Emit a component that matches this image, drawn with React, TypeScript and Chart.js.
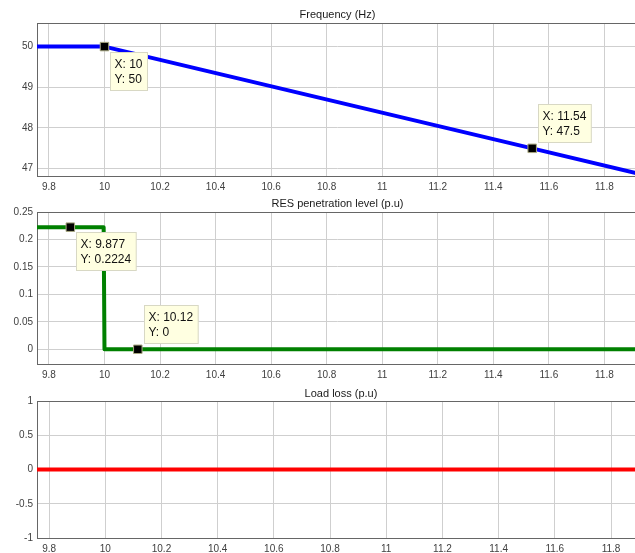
import React, { useEffect, useRef } from "react";
import { Chart, registerables } from "chart.js";

Chart.register(...registerables);

// ---------- data ----------
const xTicks = [9.8, 10, 10.2, 10.4, 10.6, 10.8, 11, 11.2, 11.4, 11.6, 11.8];
const xMin = 9.757;
const xMax = 11.921;

const freqTime = [9.757, 10, 11.54, 11.921];
const freqValue = [50, 50, 47.5, 46.88];
const freqTicks = [47, 48, 49, 50];
const freqTipX = [10, 11.54];
const freqTipY = [50, 47.5];
const freqTipLabelX = ["10", "11.54"];
const freqTipLabelY = ["50", "47.5"];

const resTime = [9.757, 9.997, 10.0, 11.921];
const resValue = [0.2224, 0.2224, 0, 0];
const resTicks = [0, 0.05, 0.1, 0.15, 0.2, 0.25];
const resTipX = [9.877, 10.12];
const resTipY = [0.2224, 0];
const resTipLabelX = ["9.877", "10.12"];
const resTipLabelY = ["0.2224", "0"];

const lossTime = [9.757, 11.921];
const lossValue = [0, 0];
const lossTicks = [-1, -0.5, 0, 0.5, 1];

// ---------- styling / layout ----------
const FONT = '"Liberation Sans", Arial, Helvetica, sans-serif';
const CANVAS_W = 645;

type Tip = { x: number; y: number; lx: string; ly: string; above: boolean };

type Panel = {
  top: number;
  height: number;
  chartTop: number;
  chartBottom: number;
  titleY: number;
  title: string;
  yMin: number;
  yMax: number;
  yTicks: number[];
  times: number[];
  values: number[];
  color: string;
  tips: Tip[];
};

const mkTips = (xs: number[], ys: number[], lx: string[], ly: string[], above: boolean[]): Tip[] =>
  xs.map((x, i) => ({ x, y: ys[i], lx: lx[i], ly: ly[i], above: above[i] }));

const panels: Panel[] = [
  {
    top: 0,
    height: 192,
    chartTop: 23,
    chartBottom: 176,
    titleY: 15,
    title: "Frequency (Hz)",
    yMin: 46.82,
    yMax: 50.58,
    yTicks: freqTicks,
    times: freqTime,
    values: freqValue,
    color: "#0000ff",
    tips: mkTips(freqTipX, freqTipY, freqTipLabelX, freqTipLabelY, [false, true]),
  },
  {
    top: 190,
    height: 192,
    chartTop: 22,
    chartBottom: 174,
    titleY: 14,
    title: "RES penetration level (p.u)",
    yMin: -0.0268,
    yMax: 0.25,
    yTicks: resTicks,
    times: resTime,
    values: resValue,
    color: "#008000",
    tips: mkTips(resTipX, resTipY, resTipLabelX, resTipLabelY, [false, true]),
  },
  {
    top: 380,
    height: 173,
    chartTop: 21,
    chartBottom: 158,
    titleY: 14,
    title: "Load loss (p.u)",
    yMin: -1,
    yMax: 1,
    yTicks: lossTicks,
    times: lossTime,
    values: lossValue,
    color: "#ff0000",
    tips: [],
  },
];

const fmt = (v: number) => String(Number(v.toFixed(4)));

function makePlugins(p: Panel) {
  const frame = {
    id: "frame",
    beforeDatasetsDraw(chart: any) {
      const { ctx, chartArea } = chart;
      ctx.save();
      ctx.strokeStyle = "#666666";
      ctx.lineWidth = 1;
      ctx.strokeRect(
        Math.round(chartArea.left) + 0.5,
        Math.round(chartArea.top) + 0.5,
        chartArea.right - chartArea.left,
        chartArea.bottom - chartArea.top
      );
      ctx.restore();
    },
  };
  const title = {
    id: "ptitle",
    afterDraw(chart: any) {
      const { ctx, chartArea } = chart;
      ctx.save();
      ctx.font = `11px ${FONT}`;
      ctx.fillStyle = "#1a1a1a";
      ctx.textAlign = "center";
      ctx.textBaseline = "middle";
      ctx.fillText(p.title, (chartArea.left + chartArea.right) / 2, p.titleY);
      ctx.restore();
    },
  };
  const tips = {
    id: "tips",
    afterDatasetsDraw(chart: any) {
      const { ctx } = chart;
      const xs = chart.scales.x;
      const ys = chart.scales.y;
      ctx.save();
      ctx.font = `12px ${FONT}`;
      p.tips.forEach((t) => {
        const px = xs.getPixelForValue(t.x);
        const py = ys.getPixelForValue(t.y);
        const lines = ["X: " + t.lx, "Y: " + t.ly];
        const w = Math.max(...lines.map((l) => ctx.measureText(l).width)) + 9;
        const h = 38;
        const bx = Math.round(px + 6) + 0.5;
        const by = Math.round(t.above ? py - 6 - h : py + 5) + 0.5;
        ctx.fillStyle = "#ffffe1";
        ctx.fillRect(bx, by, w, h);
        ctx.strokeStyle = "#d8d8c4";
        ctx.lineWidth = 1;
        ctx.strokeRect(bx, by, w, h);
        ctx.fillStyle = "#111";
        ctx.textAlign = "left";
        ctx.textBaseline = "middle";
        ctx.fillText(lines[0], bx + 4, by + 12.5);
        ctx.fillText(lines[1], bx + 4, by + 27);
      });
      ctx.restore();
    },
  };
  return [frame, tips, title];
}

function PanelChart({ p }: { p: Panel }) {
  const ref = useRef<HTMLCanvasElement | null>(null);
  useEffect(() => {
    if (!ref.current) return;
    const xH = p.height - p.chartBottom;
    const chart = new Chart(ref.current, {
      type: "line",
      data: {
        datasets: [
          {
            data: p.tips.map((t) => ({ x: t.x, y: t.y })),
            showLine: false,
            pointStyle: "rect",
            pointRadius: 6,
            pointBackgroundColor: "#000",
            pointBorderColor: "#a8a880",
            pointBorderWidth: 1,
            clip: false as any,
            order: 0,
          } as any,
          {
            data: p.times.map((t, i) => ({ x: t, y: p.values[i] })),
            borderColor: p.color,
            borderWidth: 4,
            pointRadius: 0,
            tension: 0,
            fill: false,
            borderJoinStyle: "round",
            clip: 0 as any,
            order: 1,
          } as any,
        ],
      },
      options: {
        animation: false,
        responsive: false,
        devicePixelRatio: 1,
        events: [],
        layout: { padding: { top: p.chartTop, left: 0, right: 0, bottom: 0 } },
        plugins: {
          legend: { display: false },
          title: { display: false },
          tooltip: { enabled: false },
        },
        scales: {
          x: {
            type: "linear",
            min: xMin,
            max: xMax,
            border: { display: false },
            grid: { color: "#cfcfcf", lineWidth: 1, drawTicks: false },
            afterBuildTicks: (s: any) => {
              s.ticks = xTicks.map((v) => ({ value: v }));
            },
            afterFit: (s: any) => {
              s.height = xH;
            },
            ticks: {
              padding: 5,
              maxRotation: 0,
              autoSkip: false,
              color: "#404040",
              font: { family: FONT, size: 10 },
              callback: (v: any) => fmt(Number(v)),
            },
          },
          y: {
            type: "linear",
            min: p.yMin,
            max: p.yMax,
            border: { display: false },
            grid: { color: "#cfcfcf", lineWidth: 1, drawTicks: false },
            afterBuildTicks: (s: any) => {
              s.ticks = p.yTicks.map((v) => ({ value: v }));
            },
            afterFit: (s: any) => {
              s.width = 37;
            },
            ticks: {
              padding: 4,
              autoSkip: false,
              color: "#404040",
              font: { family: FONT, size: 10 },
              callback: (v: any) => fmt(Number(v)),
            },
          },
        },
      } as any,
      plugins: makePlugins(p) as any,
    });
    return () => chart.destroy();
  }, [p]);
  return (
    <canvas
      ref={ref}
      width={CANVAS_W}
      height={p.height}
      style={{
        position: "absolute",
        left: 0,
        top: p.top,
        width: CANVAS_W,
        height: p.height,
        display: "block",
      }}
    />
  );
}

export default function App() {
  return (
    <div
      style={{
        position: "fixed",
        left: 0,
        top: 0,
        width: 635,
        height: 553,
        overflow: "hidden",
        background: "#fff",
      }}
    >
      {panels.map((p, i) => (
        <PanelChart key={i} p={p} />
      ))}
    </div>
  );
}
